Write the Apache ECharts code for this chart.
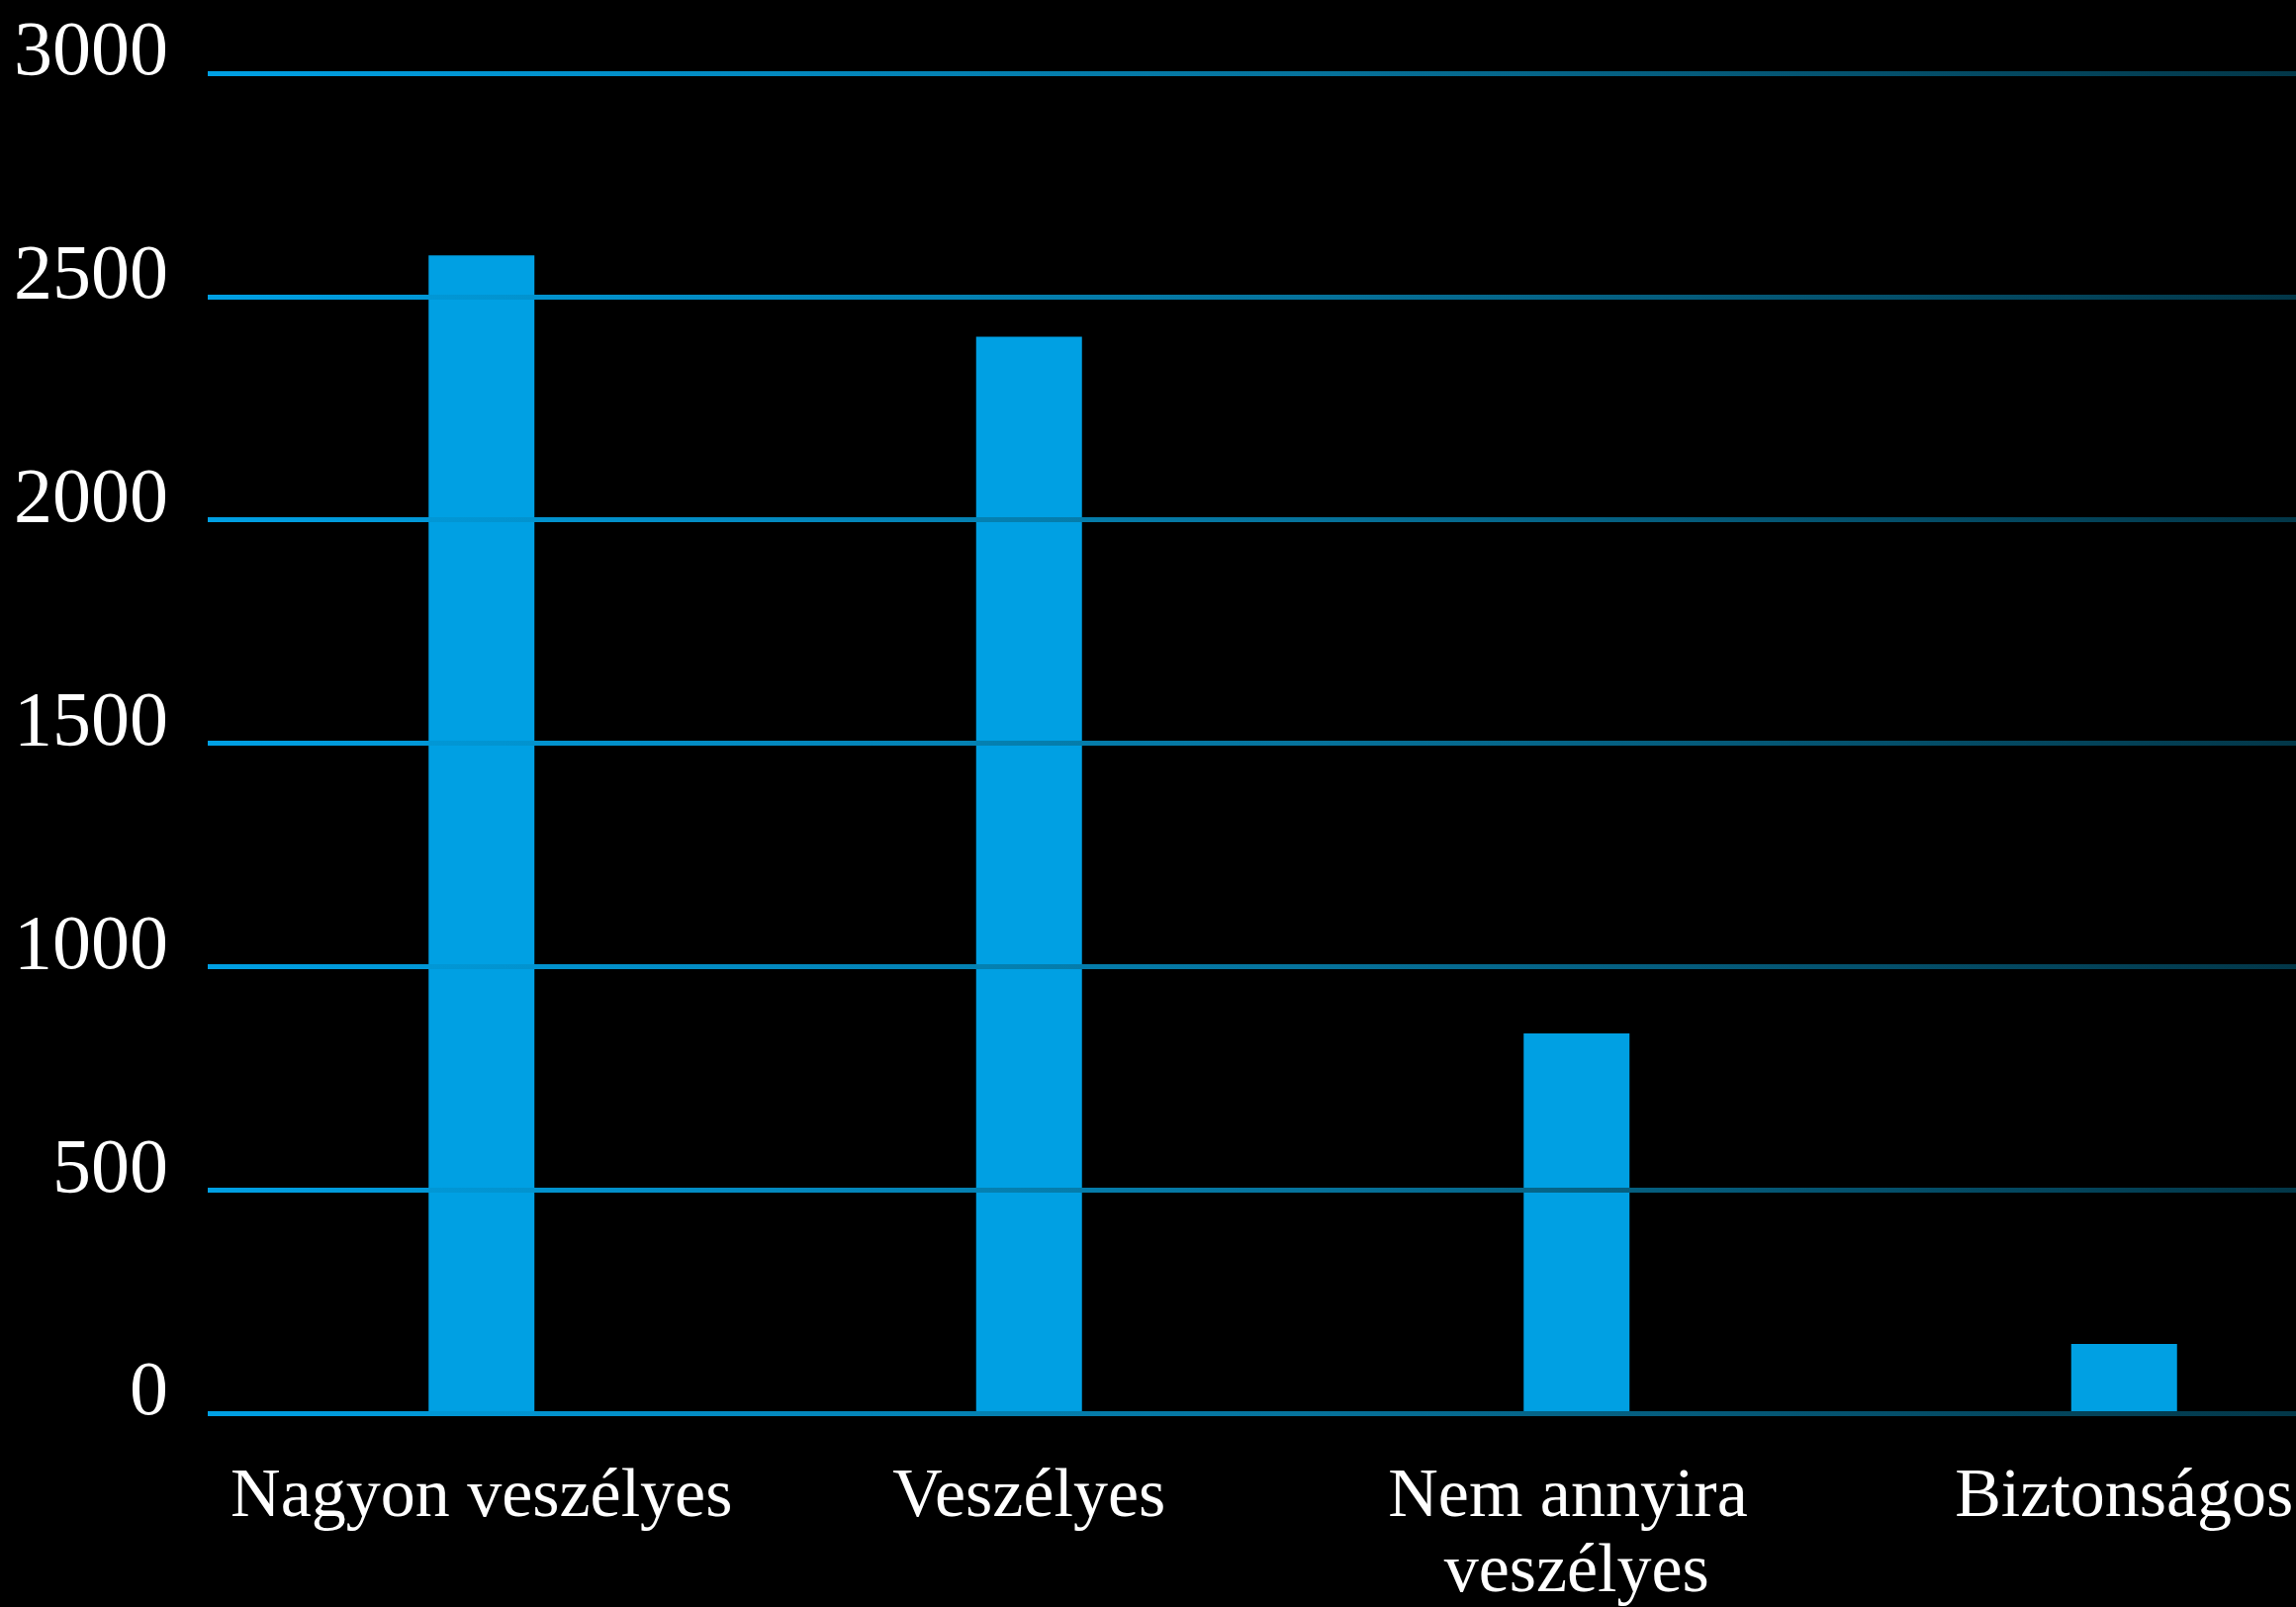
<!DOCTYPE html>
<html>
<head>
<meta charset="utf-8">
<script src="https://cdn.jsdelivr.net/npm/echarts@6/dist/echarts.min.js"></script>
<style>
html,body{margin:0;padding:0;background:#000;}
#c{width:2321px;height:1625px;}
</style>
</head>
<body>
<div id="c"></div>
<script>
const categories = ['Nagyon veszélyes', 'Veszélyes', 'Nem annyira veszélyes', 'Biztonságos'];
const values = [2592, 2410, 850, 155];
const yTicks = [0, 500, 1000, 1500, 2000, 2500, 3000];

const chart = echarts.init(document.getElementById('c'));
const lineGrad = {
  type: 'linear', x: 210, y: 0, x2: 2424, y2: 0, global: true,
  colorStops: [
    { offset: 0, color: '#00a0e4' },
    { offset: 0.5, color: '#06739c' },
    { offset: 1, color: '#02303f' }
  ]
};
chart.setOption({
  backgroundColor: '#000000',
  animation: false,
  grid: { left: 210, top: 74, bottom: 196, right: -103, containLabel: false, outerBoundsMode: 'none' },
  xAxis: {
    type: 'category',
    data: categories,
    axisLine: { show: false },
    axisTick: { show: false },
    axisLabel: {
      color: '#ffffff',
      fontFamily: 'Liberation Serif',
      fontSize: 70,
      lineHeight: 76,
      margin: 48,
      width: 600,
      overflow: 'break',
      interval: 0
    }
  },
  yAxis: {
    type: 'value',
    min: yTicks[0],
    max: yTicks[yTicks.length - 1],
    interval: 500,
    z: 5,
    axisLine: { show: false },
    axisTick: { show: false },
    splitLine: { show: true, lineStyle: { color: lineGrad, width: 5 } },
    axisLabel: {
      color: '#ffffff',
      fontFamily: 'Liberation Serif',
      fontSize: 78,
      lineHeight: 38,
      margin: 40,
      verticalAlign: 'bottom',
      formatter: function (v) { return String(v); }
    }
  },
  series: [{
    type: 'bar',
    data: values,
    barWidth: 107,
    itemStyle: { color: '#00a0e3' }
  }]
});
</script>
</body>
</html>
